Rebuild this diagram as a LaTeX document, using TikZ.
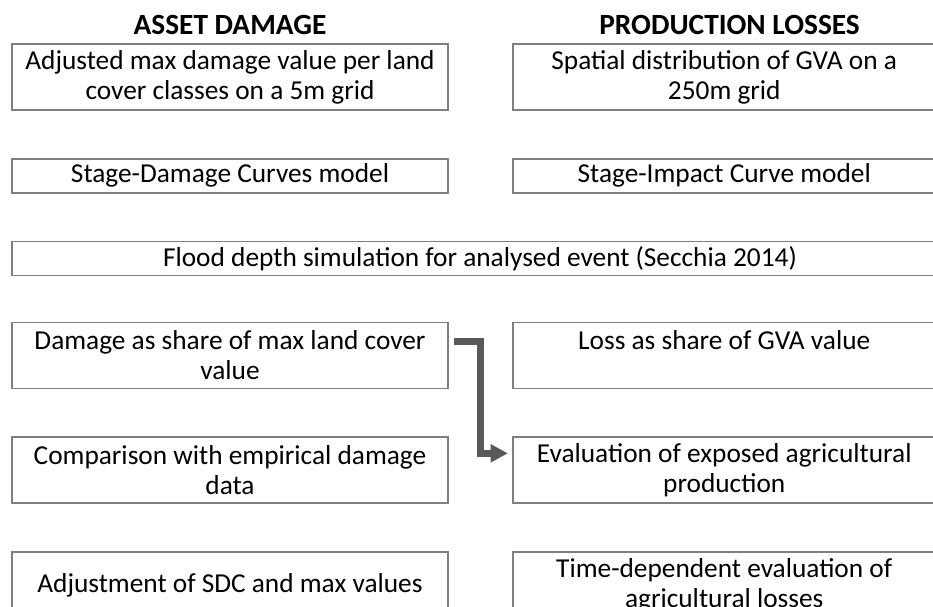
\documentclass[tikz,border=0pt]{standalone}
\usepackage{fontspec}
\setmainfont{Carlito}
\usepackage{tikz}
\usetikzlibrary{positioning}
\usetikzlibrary{calc}
\usetikzlibrary{arrows.meta}
\definecolor{boxline}{HTML}{7F7F7F}
\definecolor{arrowcol}{HTML}{595959}
\tikzstyle{stepbox}=[draw=boxline, line width=1.3pt, inner sep=0pt, align=flush center,
  text width=327pt, minimum width=327pt, font=\fontsize{20.5pt}{22.5pt}\selectfont]
\tikzstyle{tallbox}=[stepbox, minimum height=49.5pt]
\tikzstyle{flatbox}=[stepbox, minimum height=25.5pt]
\tikzstyle{rightbox}=[text width=317.25pt, minimum width=317.25pt]
\tikzstyle{heading}=[inner sep=0pt, font=\fontsize{22pt}{24pt}\selectfont\bfseries]
\tikzstyle{flowarrow}=[arrowcol, line width=5.25pt, -{Triangle[length=13pt, width=13pt]}]
\tikzset{>=latex}

\begin{document}
\begin{tikzpicture}[x=0.75pt, y=-0.75pt, node distance=35.25pt]
    % page size in pixels of the reference
    \useasboundingbox (0,0) rectangle (933,607);
    \clip (0,0) rectangle (933,607);

    % left column: asset damage
    \node[tallbox] (maxValue) at (230,77) {Adjusted max damage value per land\\cover classes on a 5m grid};
    \node[flatbox, below=of maxValue] (sdcModel) {Stage-Damage Curves model};
    \node[flatbox, below=of sdcModel.south west, anchor=north west, text width=702pt, minimum width=702pt] (floodDepth)
      {Flood depth simulation for analysed event (Secchia 2014)};
    \node[tallbox, below=96pt of sdcModel] (damageShare) {Damage as share of max land cover\\value};
    \node[tallbox, below=of damageShare] (empirical) {Comparison with empirical damage\\data};
    \node[tallbox, below=of empirical] (adjustSdc) {Adjustment of SDC and max values};

    % right column: production losses
    \node[tallbox, rightbox, right=47.25pt of maxValue.east, anchor=west] (gvaGrid) {Spatial distribution of GVA on a\\250m grid};
    \node[flatbox, rightbox, right=47.25pt of sdcModel.east, anchor=west] (sicModel) {Stage-Impact Curve model};
    \node[tallbox, rightbox, right=47.25pt of damageShare.east, anchor=west] (lossShare) {Loss as share of GVA value\\~};
    \node[tallbox, rightbox, right=47.25pt of empirical.east, anchor=west] (exposedProd) {Evaluation of exposed agricultural\\production};
    \node[tallbox, rightbox, right=47.25pt of adjustSdc.east, anchor=west] (timeLoss) {Time-dependent evaluation of\\agricultural losses};

    % headings
    \node[heading, above=6pt of maxValue] (assetTitle) {ASSET DAMAGE};
    \node[heading, above=6pt of gvaGrid, xshift=4pt] (prodTitle) {PRODUCTION LOSSES};

    % elbow arrow from damage share to exposed production
    \coordinate (arrowStart) at ($(damageShare.north east)+(5,20)$);
    \coordinate (arrowEnd) at ($(exposedProd.north west)+(-4,17)$);
    \draw[flowarrow] (arrowStart) -- ++(27,0) |- (arrowEnd);
\end{tikzpicture}
\end{document}
